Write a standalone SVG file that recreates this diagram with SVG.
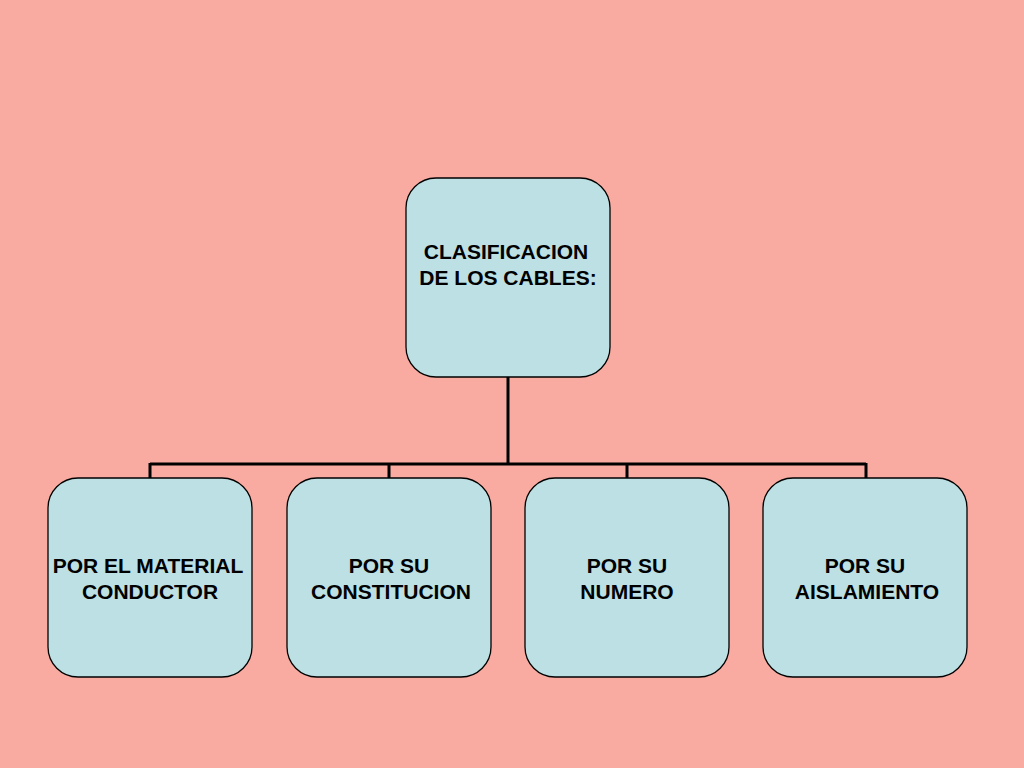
<svg xmlns="http://www.w3.org/2000/svg" width="1024" height="768" viewBox="0 0 1024 768">
<style>
.n{fill:#bce0e3;stroke:#000;stroke-width:1.3}
.t{font-family:"Liberation Sans",Arial,sans-serif;font-weight:bold;font-size:21px;fill:#000;text-anchor:middle}
.c{stroke:#000;stroke-width:3;fill:none}
</style>
<rect width="1024" height="768" fill="#f9aba1"/>
<g id="connectors">
<path class="c" d="M508 377V464M150 464H866M150 463V478M389 463V478M627 463V478M866 463V478"/>
</g>
<g id="root"><rect class="n" x="406" y="178" width="204" height="199" rx="30"/>
<text class="t" x="506" y="259">CLASIFICACION</text><text class="t" x="508" y="285">DE LOS CABLES:</text></g>
<g id="n1"><rect class="n" x="48" y="478" width="204" height="199" rx="30"/>
<text class="t" x="148" y="573">POR EL MATERIAL</text><text class="t" x="150" y="599">CONDUCTOR</text></g>
<g id="n2"><rect class="n" x="287" y="478" width="204" height="199" rx="30"/>
<text class="t" x="389" y="573">POR SU</text><text class="t" x="391" y="599">CONSTITUCION</text></g>
<g id="n3"><rect class="n" x="525" y="478" width="204" height="199" rx="30"/>
<text class="t" x="627" y="573">POR SU</text><text class="t" x="627" y="599">NUMERO</text></g>
<g id="n4"><rect class="n" x="763" y="478" width="204" height="199" rx="30"/>
<text class="t" x="865" y="573">POR SU</text><text class="t" x="867" y="599">AISLAMIENTO</text></g>
</svg>
